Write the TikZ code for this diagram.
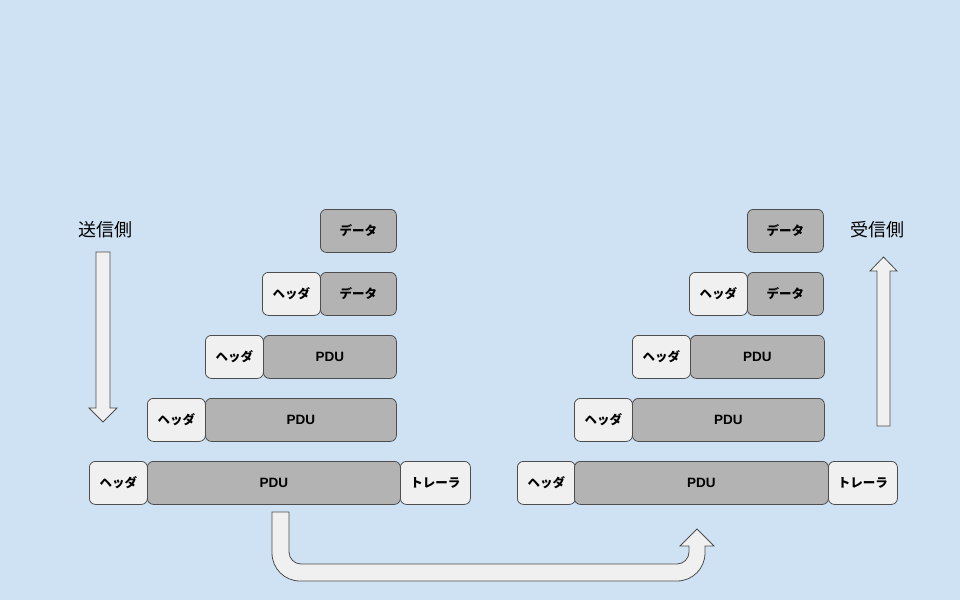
\documentclass[tikz,border=0pt]{standalone}
\usepackage{fontspec}
\setmainfont{Liberation Sans}
\newfontfamily\jp{Noto Sans CJK JP}
\usetikzlibrary{positioning}

\definecolor{bgblue}{HTML}{CFE2F3}
\definecolor{lightbox}{HTML}{F0F0F0}
\definecolor{darkbox}{HTML}{B3B3B3}
\definecolor{edge}{HTML}{4D4D4D}

\tikzset{
	blk/.style={draw=edge, line width=0.8pt, rounded corners=6pt, minimum height=43pt,
		inner sep=0pt, anchor=north west, font=\jp\bfseries\fontsize{12.5}{14}\selectfont},
	hdr/.style={blk, fill=lightbox, minimum width=58pt},
	dat/.style={blk, fill=darkbox, minimum width=76pt},
	pdu/.style={blk, fill=darkbox, font=\bfseries\fontsize{13.5}{15}\selectfont},
	trl/.style={blk, fill=lightbox, minimum width=70pt},
	side/.style={font=\jp\fontsize{18}{20}\selectfont},
	bigarrow/.style={draw=edge, fill=lightbox, line width=0.8pt, line join=miter},
}

\begin{document}
\begin{tikzpicture}[x=1pt, y=-1pt]
	\useasboundingbox[fill=bgblue] (0,0) rectangle (960,600);
	% sender side
	\node[side] (send) at (105,230) {送信側};
	\node[dat] (dL1) at (320,209) {データ};
	\node[hdr] (hL2) at (262,272) {ヘッダ};
	\node[dat] (dL2) at (320,272) {データ};
	\foreach \i/\hx in {3/205, 4/147}{
		\node[hdr] (hL\i) at (\hx,{209+63*(\i-1)}) {ヘッダ};
		\node[pdu, minimum width={(396-\hx-58)*1pt}] (pL\i) at (\hx+58,{209+63*(\i-1)}) {PDU};}
	\node[hdr] (hL5) at (89,461) {ヘッダ};
	\node[pdu, minimum width=253pt] (pL5) at (147,461) {PDU};
	\node[trl] (tL5) at (400,461) {トレーラ};
	% receiver side
	\node[side] (recv) at (877,230) {受信側};
	\node[dat] (dR1) at (747,209) {データ};
	\node[hdr] (hR2) at (689,272) {ヘッダ};
	\node[dat] (dR2) at (747,272) {データ};
	\foreach \i/\hx in {3/632, 4/574}{
		\node[hdr] (hR\i) at (\hx,{209+63*(\i-1)}) {ヘッダ};
		\node[pdu, minimum width={(824-\hx-58)*1pt}] (pR\i) at (\hx+58,{209+63*(\i-1)}) {PDU};}
	\node[hdr] (hR5) at (517,461) {ヘッダ};
	\node[pdu, minimum width=254pt] (pR5) at (574,461) {PDU};
	\node[trl, minimum width=69pt] (tR5) at (828,461) {トレーラ};
	% direction arrows
	\draw[bigarrow] (96,252) -- (110,252) -- (110,408) -- (117,408) -- (103,422) -- (89,408) -- (96,408) -- cycle;
	\draw[bigarrow] (877,426) -- (890,426) -- (890,271) -- (897,271) -- (883.5,257) -- (870,271) -- (877,271) -- cycle;
	% transfer
	\coordinate (uStart) at (272,512);
	\coordinate (uTip) at (697,529);
	\draw[bigarrow] (uStart) -- (289,512) -- (289,552) .. controls (289,558.6) and (294.4,564) .. (301,564)
		-- (677,564) .. controls (683.6,564) and (689,558.6) .. (689,552) -- (689,546) -- (680,546)
		-- (uTip) -- (714,546) -- (705,546) -- (705,553) .. controls (705,568.5) and (692.5,581) .. (677,581)
		-- (300,581) .. controls (284.5,581) and (272,568.5) .. (272,553) -- cycle;
\end{tikzpicture}
\end{document}
